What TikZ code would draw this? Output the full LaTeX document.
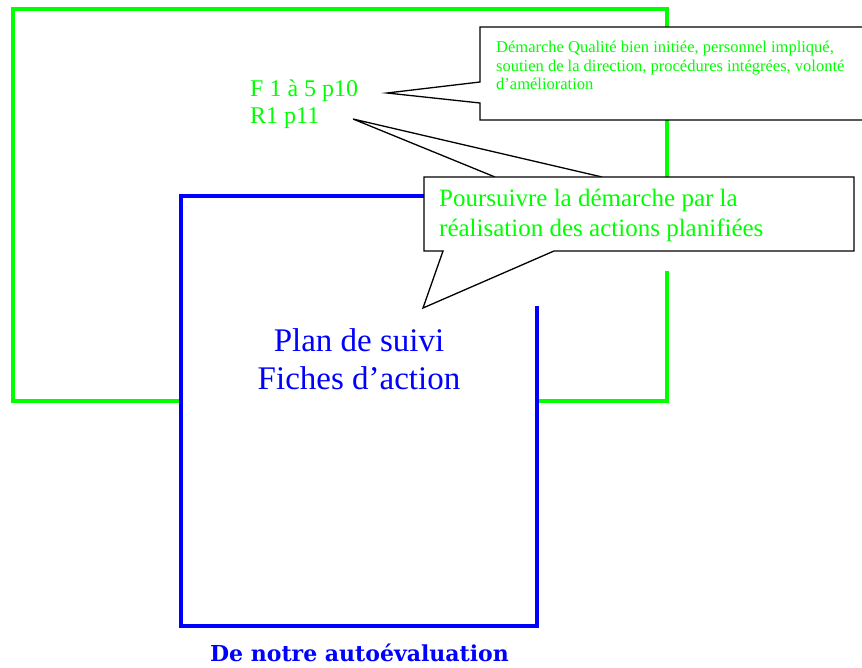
\documentclass[tikz,border=0pt]{standalone}
\usepackage{fontspec}
\setmainfont{Liberation Serif}
\newfontfamily\bottomfont{DejaVu Serif}
\usetikzlibrary{positioning}
\definecolor{qgreen}{RGB}{0,255,0}
\definecolor{qblue}{RGB}{0,0,255}
\tikzset{
  greenframe/.style={draw=qgreen,line width=4pt},
  blueframe/.style={draw=qblue,line width=4pt},
  bubble/.style={draw=black,fill=white,line width=1.3pt},
  greentext/.style={text=qgreen,align=left,inner sep=0pt},
}
\begin{document}
\begin{tikzpicture}[x=1pt,y=-1pt]
  \useasboundingbox (0,0) rectangle (862,668);

    % green frame
    \draw[greenframe] (667,251) -- (667,9) -- (13,9) -- (13,401) -- (667,401) -- (667,271);

    % blue frame
    \fill[white] (181,196) rectangle (537,626);
    \draw[blueframe] (424,196) -- (181,196) -- (181,626) -- (537,626) -- (537,306);

    % references
    \node[greentext,anchor=west,font=\fontsize{24}{27}\selectfont] (refs) at (250,104) {F 1 à 5 p10\\R1 p11};
    \coordinate (tipA) at (387,93);
    \coordinate (tipB) at (353,119);
    \coordinate (tipC) at (423,308);

    % first bubble
    \draw[bubble] (480,27) -- (880,27) -- (880,120) -- (480,120) -- (480,103) -- (tipA) -- (480,82) -- cycle;
    \node[greentext,anchor=west,font=\fontsize{16.5}{18.5}\selectfont] (strengths) at (496,65.5)
      {Démarche Qualité bien initiée, personnel impliqué,\\soutien de la direction, procédures intégrées, volonté\\d’amélioration};

    % second bubble
    \draw[bubble] (495,177) -- (tipB) -- (602,177);
    \draw[bubble] (424,177) -- (854,177) -- (854,251) -- (554,251) -- (tipC) -- (443,251) -- (424,251) -- cycle;
    \node[greentext,anchor=west,font=\fontsize{25}{30}\selectfont] (next) at (439,215)
      {Poursuivre la démarche par la\\réalisation des actions planifiées};

    % blue texts
    \node[text=qblue,align=center,inner sep=0pt,font=\fontsize{33}{38}\selectfont] (plan) at (359,359) {Plan de suivi\\Fiches d’action};
    \node[text=qblue,inner sep=0pt,font=\bottomfont\bfseries\fontsize{22}{26}\selectfont] (caption) at (359.5,653) {De notre autoévaluation};
\end{tikzpicture}
\end{document}
